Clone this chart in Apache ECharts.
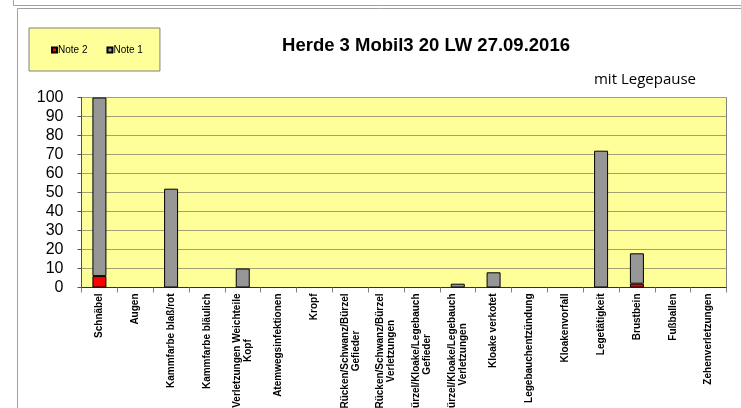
<!DOCTYPE html>
<html>
<head>
<meta charset="utf-8">
<script src="https://cdn.jsdelivr.net/npm/echarts@6/dist/echarts.min.js"></script>
<style>
  html, body { margin: 0; padding: 0; background: #fff; }
  #main { width: 741px; height: 408px; }
</style>
</head>
<body>
<div id="main"></div>
<script>
// Merkmale (x-Achse)
const categories = [
    'Schnäbel', 'Augen', 'Kammfarbe blaß/rot', 'Kammfarbe bläulich',
    'Verletzungen Weichteile\nKopf', 'Atemwegsinfektionen', 'Kropf',
    'Rücken/Schwanz/Bürzel\nGefieder', 'Rücken/Schwanz/Bürzel\nVerletzungen',
    'Bürzel/Kloake/Legebauch\nGefieder', 'Bürzel/Kloake/Legebauch\nVerletzungen',
    'Kloake verkotet', 'Legebauchentzündung', 'Kloakenvorfall',
    'Legetätigkeit', 'Brustbein', 'Fußballen', 'Zehenverletzungen'
];
// Anteile in %
const note2 = [6, 0, 0, 0, 0, 0, 0, 0, 0, 0, 0, 0, 0, 0, 0, 2, 0, 0];
const note1 = [94, 0, 52, 0, 10, 0, 0, 0, 0, 0, 2, 8, 0, 0, 72, 16, 0, 0];
const yTicks = [0, 10, 20, 30, 40, 50, 60, 70, 80, 90, 100];

const FONT = 'Arial, "Liberation Sans", sans-serif';

// 0 wird im Original nicht gezeichnet
const noZero = arr => arr.map(v => (v === 0 ? null : v));

// zweizeilige Beschriftungen zentrieren
const labelRich = {
    c: { align: 'center', fontSize: 10, fontWeight: 'bold', fontFamily: FONT, color: '#000', lineHeight: 11 }
};
const labelFormatter = function (value) {
    if (value.indexOf('\n') < 0) return value;
    return value.split('\n').map(l => '{c|' + l + '}').join('\n');
};

const chart = echarts.init(document.getElementById('main'));
chart.setOption({
    animation: false,
    backgroundColor: '#fff',
    title: [
        {
            text: 'Herde 3 Mobil3 20 LW 27.09.2016',
            left: 421, top: 31, textAlign: 'center',
            textStyle: { fontFamily: FONT, fontWeight: 'bold', fontSize: 18.5, color: '#000' }
        },
        {
            text: 'mit Legepause',
            right: 40, top: 67,
            textStyle: { fontFamily: '"Open Sans", sans-serif', fontWeight: 'normal', fontSize: 15, color: '#000' }
        }
    ],
    legend: {
        data: ['Note 2', 'Note 1'],
        left: 29, top: 28,
        padding: [17, 17, 16, 22],
        itemGap: 19,
        itemWidth: 5, itemHeight: 5,
        icon: 'rect',
        backgroundColor: '#ffff99',
        borderColor: '#808080',
        borderWidth: 1,
        textStyle: { fontFamily: FONT, fontSize: 10, color: '#000', padding: [0, 0, 0, -4] }
    },
    graphic: [
        { type: 'rect', shape: { x: 13.5, y: -10, width: 800, height: 15.5 },
          style: { fill: 'none', stroke: '#a0a0a0', lineWidth: 1 }, silent: true },
        { type: 'rect', shape: { x: 17.5, y: 8.5, width: 800, height: 500 },
          style: { fill: 'none', stroke: '#a0a0a0', lineWidth: 1 }, silent: true }
    ],
    grid: {
        left: 81.5, right: 14.5, top: 97.5, bottom: 120.5,
        outerBoundsMode: 'none',
        containLabel: false,
        show: true,
        backgroundColor: '#ffff99',
        borderColor: '#808080',
        borderWidth: 1
    },
    xAxis: {
        type: 'category',
        data: categories,
        axisLine: { lineStyle: { color: '#303030', width: 1 } },
        axisTick: { show: true, length: 5, lineStyle: { color: '#808080' } },
        axisLabel: {
            interval: 0,
            rotate: 90,
            margin: 6,
            fontFamily: FONT,
            fontSize: 10,
            fontWeight: 'bold',
            color: '#000',
            lineHeight: 11,
            formatter: labelFormatter,
            rich: labelRich
        }
    },
    yAxis: {
        type: 'value',
        min: yTicks[0],
        max: yTicks[yTicks.length - 1],
        interval: 10,
        axisLine: { show: true, lineStyle: { color: '#505050' } },
        axisTick: { show: true, length: 4, lineStyle: { color: '#505050' } },
        axisLabel: { margin: 18, fontFamily: FONT, fontSize: 16, color: '#000' },
        splitLine: { lineStyle: { color: '#a0a070', width: 1 } }
    },
    series: [
        {
            name: 'Note 2',
            type: 'bar',
            stack: 'noten',
            data: noZero(note2),
            barWidth: 14,
            itemStyle: { color: '#ff0000', borderColor: '#000', borderWidth: 1 }
        },
        {
            name: 'Note 1',
            type: 'bar',
            stack: 'noten',
            data: noZero(note1),
            barWidth: 14,
            itemStyle: { color: '#969696', borderColor: '#000', borderWidth: 1 }
        }
    ]
});
</script>
</body>
</html>
